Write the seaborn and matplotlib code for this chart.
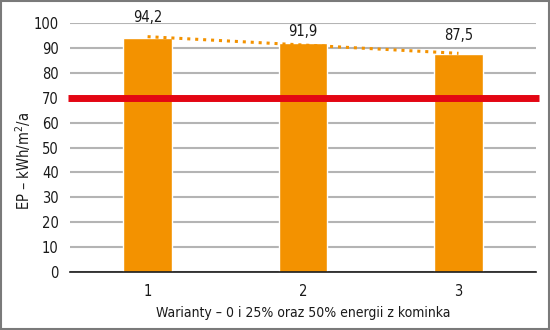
import matplotlib
matplotlib.use("Agg")
import matplotlib.pyplot as plt
import seaborn as sns
import numpy as np
import pandas as pd
from matplotlib.patches import Rectangle
from matplotlib import font_manager

categories = ["1", "2", "3"]
values = [94.2, 91.9, 87.5]
value_labels = ["94,2", "91,9", "87,5"]
limit_value = 70
y_ticks = [0, 10, 20, 30, 40, 50, 60, 70, 80, 90, 100]

sns.set_theme(style="white")
names = {f.name for f in font_manager.fontManager.ttflist}
fam = [n for n in ['Liberation Sans Narrow', 'DejaVu Sans'] if n in names]
plt.rcParams['font.family'] = fam
plt.rcParams['font.stretch'] = 'condensed'

df = pd.DataFrame({"wariant": categories, "EP": values})

fig = plt.figure(figsize=(5.5, 3.3), dpi=100)
ax = fig.add_axes([0.127, 0.176, 0.848, 0.754])

ax.set_ylim(0, 100)
ax.set_yticks(y_ticks)
ax.yaxis.grid(True, color="#b4b4b4", linewidth=1.5)
ax.set_axisbelow(True)

sns.barplot(data=df, x="wariant", y="EP", color="#f39200", width=0.31,
            saturation=1, ax=ax, zorder=2)
ax.set_xlim(-0.5, 2.5)

# linear trend line (dotted)
xs = np.arange(len(values))
coef = np.polyfit(xs, values, 1)
ax.plot(xs, np.polyval(coef, xs), linestyle=(0, (1, 1.6)), color="#f39200",
        linewidth=2.2, zorder=3)

ax.axhline(limit_value, xmin=-0.005, xmax=1.005, color="#e30613",
           linewidth=5, zorder=4, clip_on=False, solid_capstyle="butt")

offsets = [8, 4.6, 7.5]
fs = 10.5
for i, (v, lab) in enumerate(zip(values, value_labels)):
    ax.text(i, v + offsets[i], lab, ha="center", va="center", fontsize=fs,
            color="#1a1a1a")

for s in ["left", "right", "top"]:
    ax.spines[s].set_visible(False)
ax.spines["bottom"].set_color("#1a1a1a")
ax.spines["bottom"].set_linewidth(1.2)
ax.tick_params(axis="both", length=0, labelsize=fs, colors="#1a1a1a")
ax.tick_params(axis="x", pad=9)
ax.tick_params(axis="y", pad=8)
ax.set_xlabel("Warianty – 0 i 25% oraz 50% energii z kominka", fontsize=10,
              color="#1a1a1a", labelpad=5)
ax.set_ylabel("EP – kWh/m$^2$/a", fontsize=fs, color="#1a1a1a")
ax.yaxis.set_label_coords(-0.08, 0.445)

fig.patches.append(Rectangle((0.002, 0.003), 0.996, 0.994, transform=fig.transFigure,
                             fill=False, edgecolor="#7a7a7a", linewidth=1.5))

fig.savefig("out.png", dpi=100)
